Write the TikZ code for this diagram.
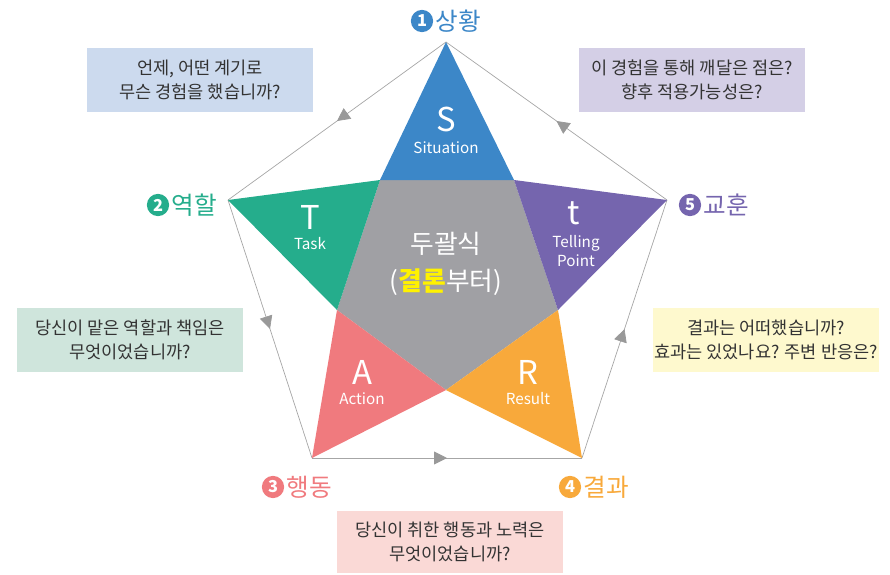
\documentclass[tikz,border=0pt]{standalone}
\usepackage{fontspec}
\setmainfont{Noto Sans CJK KR}
\usetikzlibrary{positioning,arrows.meta,decorations.markings}

\definecolor{cblue}{HTML}{3C87C8}
\definecolor{cgreen}{HTML}{25AD8C}
\definecolor{cpurple}{HTML}{7565AE}
\definecolor{cred}{HTML}{F07A7E}
\definecolor{corange}{HTML}{F8A93B}
\definecolor{cgray}{HTML}{A0A0A4}
\definecolor{cyellow}{HTML}{FFF200}
\definecolor{bblue}{HTML}{CCDAEE}
\definecolor{bpurple}{HTML}{D4CFE6}
\definecolor{bgreen}{HTML}{CFE5DC}
\definecolor{byellow}{HTML}{FEF9CE}
\definecolor{bpink}{HTML}{FAD9D6}
\definecolor{txt}{HTML}{333333}

\begin{document}
\begin{tikzpicture}[x=0.03cm,y=-0.03cm,
  edge/.style={draw=black!35,line width=0.6pt,postaction={decorate},
    decoration={markings,mark=at position 0.5 with {\arrow[black!40]{Triangle[length=11pt,width=11pt]}}}},
  qbox/.style={rectangle,inner sep=0pt,minimum width=6.8cm,minimum height=1.94cm,
    align=center,text=txt,font=\fontsize{15}{20.5}\selectfont},
  numdot/.style={circle,inner sep=0pt,minimum size=19pt,text=white,font=\bfseries\fontsize{14}{14}\selectfont},
  step label/.style={font=\fontsize{21}{21}\selectfont,inner sep=1pt},
  big/.style={text=white,font=\fontsize{28}{28}\selectfont},
  small/.style={text=white,font=\fontsize{13}{16}\selectfont,align=center}]

\useasboundingbox (0,0) rectangle (890,574);

% outer pentagon
\coordinate (top) at (446,42);
\coordinate (left) at (228,200);
\coordinate (botleft) at (312,458);
\coordinate (botright) at (582,458);
\coordinate (right) at (667,200);

% inner pentagon
\coordinate (iul) at (380,180);
\coordinate (iur) at (514,180);
\coordinate (ir) at (558,310);
\coordinate (ib) at (446,390);
\coordinate (il) at (337,310);

\draw[edge] (top) -- (left);
\draw[edge] (left) -- (botleft);
\draw[edge] (botleft) -- (botright);
\draw[edge] (botright) -- (right);
\draw[edge] (right) -- (top);

% star
\fill[cgray] (iul) -- (iur) -- (ir) -- (ib) -- (il) -- cycle;
\fill[cblue] (top) -- (iur) -- (iul) -- cycle;
\fill[cgreen] (left) -- (iul) -- (il) -- cycle;
\fill[cred] (botleft) -- (il) -- (ib) -- cycle;
\fill[corange] (botright) -- (ib) -- (ir) -- cycle;
\fill[cpurple] (right) -- (ir) -- (iur) -- cycle;

\node[big] (S) at (446,119) {S};
\node[small] (Ssub) at (446,148) {Situation};
\node[big] (T) at (310,217) {T};
\node[small] (Tsub) at (310,244) {Task};
\node[big] (t) at (574,213) {t};
\node[small] (tsub) at (576,251) {Telling\\Point};
\node[big] (A) at (362,372) {A};
\node[small] (Asub) at (362,399) {Action};
\node[big] (R) at (528,372) {R};
\node[small] (Rsub) at (528,399) {Result};

\node[text=white,align=center,font=\fontsize{22}{32}\selectfont] (core) at (446,264)
  {두괄식\\(\textcolor{cyellow}{\bfseries 결론}부터)};

% step labels
\node[numdot,fill=cblue] (n1) at (422,21) {1};
\node[step label,text=cblue,right=1pt of n1] (l1) {상황};
\node[numdot,fill=cgreen] (n2) at (158,205) {2};
\node[step label,text=cgreen,right=1pt of n2] (l2) {역할};
\node[numdot,fill=cred] (n3) at (273,487) {3};
\node[step label,text=cred,right=1pt of n3] (l3) {행동};
\node[numdot,fill=corange] (n4) at (570,487) {4};
\node[step label,text=corange,right=1pt of n4] (l4) {결과};
\node[numdot,fill=cpurple] (n5) at (690,205) {5};
\node[step label,text=cpurple,right=1pt of n5] (l5) {교훈};

% questions
\node[qbox,fill=bblue] (q1) at (200,80) {언제, 어떤 계기로\\무슨 경험을 했습니까?};
\node[qbox,fill=bgreen] (q2) at (130,340) {당신이 맡은 역할과 책임은\\무엇이었습니까?};
\node[qbox,fill=bpink,minimum height=1.86cm] (q3) at (450,542) {당신이 취한 행동과 노력은\\무엇이었습니까?};
\node[qbox,fill=byellow] (q4) at (766,340) {결과는 어떠했습니까?\\효과는 있었나요? 주변 반응은?};
\node[qbox,fill=bpurple] (q5) at (692,80) {이 경험을 통해 깨달은 점은?\\향후 적용가능성은?};

\end{tikzpicture}
\end{document}
